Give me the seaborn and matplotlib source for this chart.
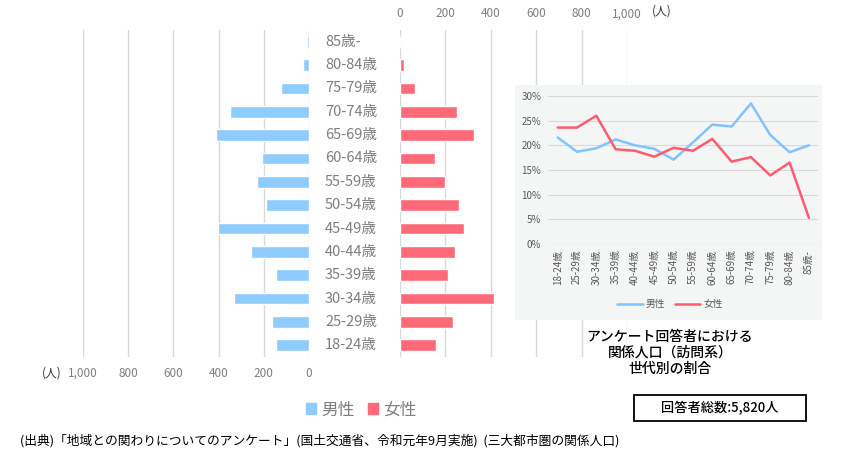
import numpy as np
import pandas as pd
import seaborn as sns
import matplotlib
matplotlib.use("Agg")
import matplotlib.pyplot as plt
import matplotlib.transforms as mtransforms
from matplotlib.patches import Patch, Rectangle
from matplotlib.lines import Line2D

# data
ages = ['18-24歳', '25-29歳', '30-34歳', '35-39歳', '40-44歳', '45-49歳', '50-54歳',
        '55-59歳', '60-64歳', '65-69歳', '70-74歳', '75-79歳', '80-84歳', '85歳-']
male_n = [148, 164, 332, 147, 256, 401, 189, 232, 209, 410, 351, 126, 28, 9]
female_n = [159, 234, 416, 213, 243, 280, 261, 200, 153, 326, 252, 67, 18, 2]
male_pct = [21.6, 18.7, 19.4, 21.2, 20.0, 19.3, 17.1, 20.6, 24.2, 23.8, 28.5, 22.1, 18.6, 20.0]
female_pct = [23.6, 23.6, 26.0, 19.2, 18.9, 17.7, 19.5, 18.9, 21.3, 16.7, 17.6, 13.9, 16.5, 5.3]
x_ticks = [0, 200, 400, 600, 800, 1000]
pct_ticks = [0, 5, 10, 15, 20, 25, 30]

blue = '#8ecbff'
red = '#ff6a79'
line_blue = '#80c3ff'
line_red = '#ff5c70'
grey = '#7f7f7f'

sns.set_theme(style='white')
plt.rcParams['font.family'] = ['Noto Sans CJK JP', 'DejaVu Sans']

W, H = 862, 458
fig = plt.figure(figsize=(W / 100, H / 100), dpi=100)

def box(x0, y0, x1, y1):
    # pixel box (top-left origin) -> figure fraction
    return [x0 / W, 1 - y1 / H, (x1 - x0) / W, (y1 - y0) / H]

df_pop = pd.DataFrame({'age': ages, 'male': male_n, 'female': female_n})
order = ages[::-1]

ax_m = fig.add_axes(box(83, 30, 309, 357))
ax_f = fig.add_axes(box(400, 30, 627, 357))

sns.barplot(data=df_pop, x='male', y='age', order=order, color=blue, saturation=1,
            width=0.5, ax=ax_m, zorder=2)
sns.barplot(data=df_pop, x='female', y='age', order=order, color=red, saturation=1,
            width=0.5, ax=ax_f, zorder=2)

ax_m.set_xlim(1000, 0)
ax_f.set_xlim(0, 1000)
for ax in (ax_m, ax_f):
    ax.set_xticks(x_ticks)
    ax.set_xticklabels([f'{v:,}' for v in x_ticks])
    ax.set_yticks([])
    ax.set_xlabel('')
    ax.set_ylabel('')
    ax.set_facecolor('none')
    ax.grid(axis='x', color='#d9d9d9', lw=1, zorder=0)
    ax.grid(axis='y', visible=False)
    for s in ax.spines.values():
        s.set_visible(False)
    ax.tick_params(axis='x', length=0, labelsize=8.5, colors=grey, pad=7)
ax_f.xaxis.tick_top()

# age labels between the two halves
trans = mtransforms.blended_transform_factory(fig.transFigure, ax_m.transData)
for i, a in enumerate(order):
    ax_m.text(325 / W, i, a, transform=trans, ha='left', va='center',
              fontsize=10.5, color=grey)

fig.text(52 / W, 1 - 373 / H, '(人)', ha='center', va='center', fontsize=8.5, color='#333333')
fig.text(662 / W, 1 - 11 / H, '(人)', ha='center', va='center', fontsize=8.5, color='#333333')

# inset line chart
bg = Rectangle((515 / W, 1 - 320 / H), 307 / W, 235 / H, transform=fig.transFigure,
               facecolor='#f4f5f5', edgecolor='none', zorder=1)
fig.add_artist(bg)

ax_in = fig.add_axes(box(548, 96, 818, 244))
ax_in.set_zorder(3)
ax_in.set_facecolor('none')
df_pct = pd.DataFrame({'age': ages * 2,
                       'pct': male_pct + female_pct,
                       'sex': ['男性'] * len(ages) + ['女性'] * len(ages)})
sns.lineplot(data=df_pct, x='age', y='pct', hue='sex', sort=False,
             palette={'男性': line_blue, '女性': line_red}, lw=1.8, ax=ax_in, legend=False)
ax_in.set_xlim(-0.5, 13.47)
ax_in.set_ylim(0, 30)
ax_in.set_yticks(pct_ticks)
ax_in.set_yticklabels([f'{v}%' for v in pct_ticks])
ax_in.set_xlabel('')
ax_in.set_ylabel('')
ax_in.grid(axis='y', color='#d9d9d9', lw=0.8)
ax_in.grid(axis='x', visible=False)
for s in ax_in.spines.values():
    s.set_visible(False)
ax_in.axhline(0, color='#bfbfbf', lw=0.8)
ax_in.tick_params(axis='y', length=0, labelsize=7, colors='#595959', pad=5)
ax_in.tick_params(axis='x', length=0, labelsize=7, colors='#595959', pad=4, rotation=90)

ax_in.legend(handles=[Line2D([], [], color=line_blue, lw=1.8),
                      Line2D([], [], color=line_red, lw=1.8)],
             labels=['男性', '女性'], loc='center', ncol=2, frameon=False,
             bbox_to_anchor=(670 / W, 1 - 304 / H), bbox_transform=fig.transFigure,
             fontsize=7, handlelength=2.6, handletextpad=0.3, columnspacing=1.0,
             labelcolor='#595959')

fig.text(670 / W, 1 - 353 / H, 'アンケート回答者における\n関係人口（訪問系）\n世代別の割合',
         ha='center', va='center', fontsize=10, linespacing=1.2, color='black',
         fontweight='medium')

# bottom legend
fig.legend(handles=[Patch(color=blue), Patch(color=red)], labels=['男性', '女性'],
           loc='center', bbox_to_anchor=(361 / W, 1 - 410 / H), ncol=2, frameon=False,
           fontsize=12, handlelength=0.6, handleheight=0.6, handletextpad=0.3,
           columnspacing=0.8, labelcolor=grey)

# total box
fig.add_artist(Rectangle((634 / W, 1 - 421 / H), 172 / W, 26 / H, transform=fig.transFigure,
                         fill=False, edgecolor='black', lw=1.3))
fig.text(720 / W, 1 - 408 / H, '回答者総数:5,820人', ha='center', va='center',
         fontsize=9.5, color='black', fontweight='medium')

fig.text(20 / W, 1 - 441 / H,
         '(出典)「地域との関わりについてのアンケート」(国土交通省、令和元年9月実施)  (三大都市圏の関係人口)',
         ha='left', va='center', fontsize=9.2, color='black')

fig.savefig('out.png', dpi=100)
